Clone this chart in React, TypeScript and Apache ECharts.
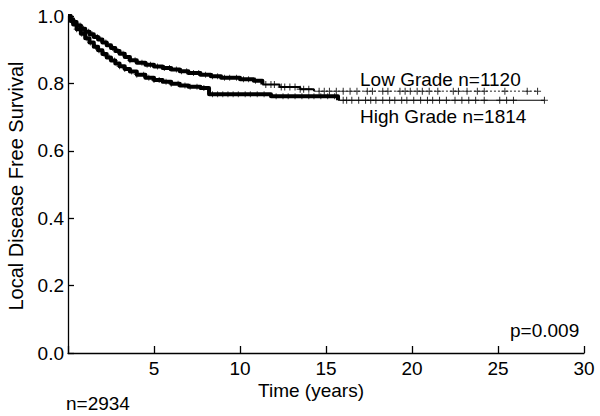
import React, { useEffect, useRef } from "react";
import * as echarts from "echarts";

// Kaplan-Meier step points (time in years, survival)
const lowTimes = [0, 0.15, 0.3, 0.5, 0.75, 1.0, 1.25, 1.5, 1.75, 2.0, 2.25, 2.5, 2.75, 3.0, 3.3, 3.6, 4.0, 4.5, 5.0, 5.5, 6.0, 6.5, 7.0, 7.7, 8.3, 8.9, 10.0, 10.8, 11.3, 12.3, 13.5, 14.3, 27.3];
const lowSurv = [1.0, 0.99, 0.982, 0.972, 0.962, 0.953, 0.946, 0.938, 0.93, 0.921, 0.913, 0.905, 0.896, 0.888, 0.878, 0.869, 0.861, 0.855, 0.85, 0.846, 0.841, 0.836, 0.831, 0.826, 0.821, 0.817, 0.812, 0.808, 0.797, 0.789, 0.783, 0.777, 0.777];
const highTimes = [0, 0.15, 0.3, 0.5, 0.75, 1.0, 1.25, 1.5, 1.75, 2.0, 2.25, 2.5, 2.75, 3.0, 3.3, 3.6, 4.0, 4.5, 5.0, 5.5, 6.0, 6.5, 7.0, 7.7, 8.2, 11.8, 15.7, 27.7];
const highSurv = [1.0, 0.985, 0.975, 0.961, 0.947, 0.934, 0.921, 0.909, 0.898, 0.887, 0.877, 0.868, 0.859, 0.851, 0.843, 0.835, 0.826, 0.817, 0.81, 0.805, 0.799, 0.794, 0.79, 0.786, 0.768, 0.762, 0.75, 0.75];

// censoring marks (years)
const lowCensor = [0.2, 0.4, 0.7, 0.9, 1.2, 1.4, 1.7, 1.9, 2.2, 2.6, 2.9, 3.2, 3.6, 3.9, 4.3, 4.6, 4.8, 5.2, 5.6, 5.9, 6.3, 6.6, 6.9, 7.3, 7.6, 8.0, 8.4, 8.7, 9.1, 9.4, 9.8, 10.2, 10.5, 10.9, 11.5, 11.8, 12.0, 12.4, 12.6, 12.9, 13.2, 13.5, 13.7, 14.0, 14.6, 14.9, 15.2, 15.6, 16.0, 16.4, 16.8, 17.4, 17.7, 18.3, 18.6, 19.3, 19.6, 19.9, 20.3, 20.6, 21.0, 21.5, 22.4, 22.7, 23.2, 23.8, 24.2, 25.4, 26.7, 27.3];
const highCensor = [0.2, 0.5, 0.8, 1.1, 1.3, 1.6, 1.8, 2.1, 2.4, 2.7, 3.0, 3.3, 3.7, 4.0, 4.4, 4.7, 5.0, 5.3, 5.7, 6.0, 6.4, 6.8, 7.1, 7.5, 7.9, 8.4, 8.7, 9.0, 9.3, 9.6, 9.9, 10.3, 10.6, 11.0, 11.4, 12.1, 12.5, 12.8, 13.2, 13.6, 14.0, 14.3, 14.7, 15.1, 15.5, 16.0, 16.2, 16.5, 16.9, 17.3, 17.6, 17.9, 18.3, 18.7, 19.0, 19.4, 19.7, 20.1, 20.5, 20.9, 21.2, 21.6, 22.0, 22.5, 22.9, 23.3, 23.7, 24.2, 25.1, 25.5, 25.9, 27.7];

const lowSplit = 11.3;
const lowSplit2 = 14.3;
const highSplit = 15.7;

const labelLow = "Low Grade n=1120";
const labelHigh = "High Grade n=1814";
const labelP = "p=0.009";
const labelN = "n=2934";
const xTitle = "Time (years)";
const yTitle = "Local Disease Free Survival";

const FONT = "'Liberation Sans', Arial, Helvetica, sans-serif";
const PLUS = "path://M4.25,0H5.75V4.25H10V5.75H5.75V10H4.25V5.75H0V4.25H4.25Z";

function survAt(times: number[], surv: number[], t: number) {
  let v = surv[0];
  for (let i = 0; i < times.length; i++) if (times[i] <= t) v = surv[i];
  return v;
}

function pts(times: number[], surv: number[], from: number, to: number) {
  const out: number[][] = [];
  for (let i = 0; i < times.length; i++) {
    if (times[i] >= from && times[i] <= to) out.push([times[i], surv[i]]);
  }
  return out;
}

export default function App() {
  const ref = useRef<HTMLDivElement>(null);
  useEffect(() => {
    if (!ref.current) return;
    const chart = echarts.init(ref.current, null, { renderer: "svg" });
    const lineBase = { type: "line", step: "end", showSymbol: false, symbol: "none", silent: true };
    const censor = (list: number[], times: number[], surv: number[], split: number, early: boolean) => ({
      type: "scatter",
      silent: true,
      symbol: PLUS,
      symbolSize: early ? 6 : 7,
      itemStyle: { color: "#000" },
      data: list.filter((t) => (early ? t < split : t >= split)).map((t) => [t, survAt(times, surv, t)]),
    });
    const option: any = {
      animation: false,
      backgroundColor: "#fff",
      grid: { left: 68, right: 16, top: 16, bottom: 63 },
      xAxis: {
        type: "value",
        min: 0,
        max: 30,
        interval: 5,
        axisLine: { lineStyle: { color: "#000", width: 1.3 } },
        axisTick: { inside: true, length: 7, lineStyle: { color: "#000", width: 1.3 } },
        axisLabel: {
          color: "#000",
          fontSize: 19,
          fontFamily: FONT,
          margin: 6,
          formatter: (v: number) => (v === 0 ? "" : String(v)),
        },
        splitLine: { show: false },
      },
      yAxis: {
        type: "value",
        min: 0,
        max: 1,
        interval: 0.2,
        axisLine: { show: true, lineStyle: { color: "#000", width: 1.3 } },
        axisTick: { show: true, inside: true, length: 6, lineStyle: { color: "#000", width: 1.3 } },
        axisLabel: {
          color: "#000",
          fontSize: 19,
          fontFamily: FONT,
          margin: 4,
          formatter: (v: number) => v.toFixed(1),
        },
        splitLine: { show: false },
      },
      series: [
        { ...lineBase, data: pts(lowTimes, lowSurv, 0, lowSplit), lineStyle: { color: "#000", width: 4, join: "round" } },
        { ...lineBase, data: pts(lowTimes, lowSurv, lowSplit, lowSplit2), lineStyle: { color: "#000", width: 2 } },
        { ...lineBase, data: pts(lowTimes, lowSurv, lowSplit2, 100), lineStyle: { color: "#222", width: 1, type: [2, 2] } },
        { ...lineBase, data: pts(highTimes, highSurv, 0, highSplit), lineStyle: { color: "#000", width: 4, join: "round" } },
        { ...lineBase, data: pts(highTimes, highSurv, highSplit, 100), lineStyle: { color: "#000", width: 1.2 } },
        censor(lowCensor, lowTimes, lowSurv, lowSplit, true),
        censor(lowCensor, lowTimes, lowSurv, lowSplit, false),
        censor(highCensor, highTimes, highSurv, highSplit, true),
        censor(highCensor, highTimes, highSurv, highSplit, false),
      ],
      graphic: [
        { type: "text", left: 360, top: 70, style: { text: labelLow, fontSize: 19, fontFamily: FONT, fill: "#000" } },
        { type: "text", left: 360, top: 107, style: { text: labelHigh, fontSize: 19, fontFamily: FONT, fill: "#000" } },
        { type: "text", left: 510, top: 321, style: { text: labelP, fontSize: 19, fontFamily: FONT, fill: "#000" } },
        { type: "text", left: 66, top: 394, style: { text: labelN, fontSize: 19, fontFamily: FONT, fill: "#000" } },
        {
          type: "text",
          x: 311,
          y: 390,
          style: { text: xTitle, fontSize: 19, fontFamily: FONT, fill: "#000", align: "center", verticalAlign: "middle" },
        },
        {
          type: "text",
          x: 16,
          y: 186,
          rotation: Math.PI / 2,
          style: { text: yTitle, fontSize: 20, fontFamily: FONT, fill: "#000", align: "center", verticalAlign: "middle" },
        },
      ],
    };
    chart.setOption(option);
    return () => chart.dispose();
  }, []);
  return <div ref={ref} style={{ width: 600, height: 416, position: "absolute", left: 0, top: 0 }} />;
}
